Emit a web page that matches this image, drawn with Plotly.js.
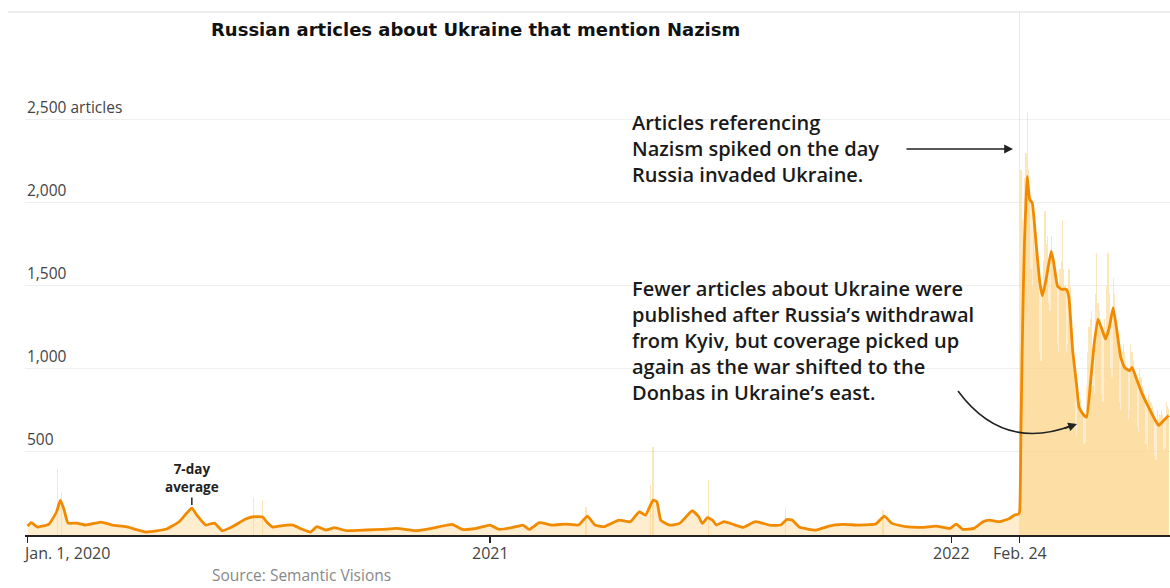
<!DOCTYPE html>
<html>
<head>
<meta charset="utf-8">
<script src="https://cdn.plot.ly/plotly-3.0.1.min.js"></script>
<style>html,body{margin:0;padding:0;background:#fff;}#chart{width:1170px;height:588px;}</style>
</head>
<body>
<div id="chart"></div>
<script>
// 7-day average (articles per day)
const avgDates = [
 '2020-01-01','2020-01-04','2020-01-09','2020-01-18','2020-01-24','2020-01-27','2020-01-30','2020-02-02','2020-02-09','2020-02-16',
 '2020-02-28','2020-03-08','2020-03-19','2020-04-04','2020-04-20','2020-04-30','2020-05-06','2020-05-10','2020-05-14','2020-05-21',
 '2020-05-28','2020-06-03','2020-06-11','2020-06-22','2020-06-28','2020-07-05','2020-07-09','2020-07-13','2020-07-24','2020-07-29',
 '2020-08-05','2020-08-12','2020-08-17','2020-08-24','2020-08-31','2020-09-09','2020-09-25','2020-10-08','2020-10-19','2020-11-03',
 '2020-11-16','2020-12-02','2020-12-10','2020-12-21',
 '2021-01-01','2021-01-08','2021-01-19','2021-01-27','2021-02-01','2021-02-09','2021-02-19','2021-03-02','2021-03-12','2021-03-19',
 '2021-03-25','2021-04-01','2021-04-13','2021-04-22','2021-04-29','2021-05-04','2021-05-10','2021-05-13','2021-05-16','2021-05-23',
 '2021-05-31','2021-06-10','2021-06-15','2021-06-18','2021-06-22','2021-06-26','2021-06-29','2021-07-05','2021-07-14','2021-07-20',
 '2021-07-30','2021-08-10','2021-08-19','2021-08-24','2021-08-28','2021-09-03','2021-09-16','2021-09-26','2021-10-07','2021-10-20',
 '2021-11-02','2021-11-09','2021-11-15','2021-11-26','2021-12-09','2021-12-20','2021-12-31',
 '2022-01-05','2022-01-10','2022-01-19','2022-01-26','2022-01-31','2022-02-08','2022-02-16','2022-02-20','2022-02-23','2022-02-24',
 '2022-02-25','2022-02-26','2022-02-27','2022-02-28','2022-03-01','2022-03-02','2022-03-04','2022-03-06','2022-03-09','2022-03-12',
 '2022-03-14','2022-03-17','2022-03-21','2022-03-23','2022-03-26','2022-03-29','2022-04-02','2022-04-04','2022-04-07','2022-04-10',
 '2022-04-12','2022-04-15','2022-04-18','2022-04-21','2022-04-24','2022-04-27','2022-05-01','2022-05-03','2022-05-06','2022-05-09',
 '2022-05-12','2022-05-15','2022-05-18','2022-05-22','2022-05-24','2022-05-28','2022-06-01','2022-06-06','2022-06-10','2022-06-14',
 '2022-06-18','2022-06-22'
];
const avgValues = [
 54,74,48,66,140,210,150,72,72,60,
 78,60,50,18,36,80,132,162,120,60,
 72,26,50,98,110,108,72,48,60,60,
 36,18,50,30,44,26,30,34,40,26,
 40,64,34,40,
 60,34,46,60,34,74,60,66,60,114,
 60,50,90,80,140,120,210,200,90,60,
 70,146,110,70,104,90,60,80,60,46,
 80,60,60,94,90,46,30,54,64,60,
 66,114,70,50,46,54,40,
 66,34,40,80,90,80,100,120,125,140,
 600,1100,1500,1800,2000,2160,2020,2000,1760,1520,
 1440,1540,1710,1640,1500,1480,1480,1430,1110,910,
 770,730,710,910,1150,1300,1220,1180,1250,1370,
 1230,1070,1010,990,1010,930,850,770,710,660,
 690,720
];

// Daily counts from the day of the invasion onward
const dailyStart = '2022-02-24';
const dailyValues = [
 3200,2200,1900,1800,2150,2300,2550,2200,2050,1600,1500,1850,1700,1750,1600,1500,1100,1050,1500,1650,
 1950,1750,1800,1400,1350,1800,1700,1650,1600,1550,1150,1100,1600,1650,1900,1600,1500,1100,1150,1600,
 1500,1300,1150,1000,650,600,850,800,820,780,750,550,560,900,1100,1250,1300,1350,900,850,
 1450,1700,1400,1350,1300,850,800,1300,1250,1500,1700,1450,1000,950,1550,1450,1300,1200,1150,800,
 750,1100,1150,1100,1050,1000,700,750,1150,1100,1050,1000,950,650,620,1000,950,900,880,850,
 550,520,850,820,800,780,750,480,450,750,700,720,750,720,500,520,800,780,760
];
// Notable single-day spikes before the invasion
const spikeDates = ['2020-01-25','2020-01-28','2020-06-28','2020-07-05','2021-03-18','2021-05-08','2021-05-10','2021-06-23','2021-08-23','2021-11-08'];
const spikeValues = [400,260,230,210,170,300,530,330,170,150];

// Axis labels
const yTickVals = [500,1000,1500,2000,2500];
const yTickText = ['500','1,000','1,500','2,000','2,500 articles'];
const xTickVals = ['2020-01-01','2021-01-01','2022-01-01','2022-02-24'];
const xTickText = ['Jan. 1, 2020','2021','2022','Feb. 24'];

// build daily date list
const dailyDates = [];
(function(){
  const d0 = new Date(dailyStart + 'T00:00:00Z');
  for (let i = 0; i < dailyValues.length; i++) {
    const d = new Date(d0.getTime() + i*86400000);
    dailyDates.push(d.toISOString().slice(0,10));
  }
})();
const barDates = spikeDates.concat(dailyDates);
const barValues = spikeValues.concat(dailyValues);

const FONT = '"Open Sans", "Liberation Sans", Arial, sans-serif';
const TFONT = '"DejaVu Sans", "Liberation Sans", Arial, sans-serif';
const ORANGE = '#f28a00';

const traces = [
  {type:'scatter', mode:'lines', x:avgDates, y:avgValues, fill:'tozeroy',
   fillcolor:'rgba(252,212,135,0.40)', line:{width:0, color:'rgba(0,0,0,0)', shape:'spline', smoothing:0.4}, hoverinfo:'skip'},
  {type:'bar', x:barDates, y:barValues, marker:{color:'rgba(252,212,135,0.58)', line:{width:0}}, width:86400000, hoverinfo:'skip'},
  {type:'scatter', mode:'lines', x:avgDates, y:avgValues, line:{color:ORANGE, width:2.8, shape:'spline', smoothing:0.4}, hoverinfo:'skip'}
];

const annotations = [];
yTickVals.forEach((v,i)=>{
  annotations.push({xref:'paper', yref:'y', x:0, y:v, xanchor:'left', yanchor:'bottom', yshift:0,
    text:yTickText[i], showarrow:false, font:{family:FONT, size:15.5, color:'#444'}});
});
xTickVals.forEach((v,i)=>{
  annotations.push({xref:'x', yref:'paper', x:v, y:0, xanchor: i===0 ? 'left':'center', yanchor:'top',
    xshift: i===0 ? -7 : 0, yshift:-5,
    text:xTickText[i], showarrow:false, font:{family:FONT, size:16, color:'#444'}});
});
annotations.push({xref:'paper', yref:'paper', x:(630-25)/1145, y:(535-107)/523, xanchor:'left', yanchor:'top', align:'left',
  text:'Articles referencing<br>Nazism spiked on the day<br>Russia invaded Ukraine.', showarrow:false,
  font:{family:FONT, size:20, color:'#1a1a1a', weight:600}});
annotations.push({xref:'paper', yref:'paper', x:(630-25)/1145, y:(535-273)/523, xanchor:'left', yanchor:'top', align:'left',
  text:'Fewer articles about Ukraine were<br>published after Russia\u2019s withdrawal<br>from Kyiv, but coverage picked up<br>again as the war shifted to the<br>Donbas in Ukraine\u2019s east.', showarrow:false,
  font:{family:FONT, size:20, color:'#1a1a1a', weight:600}});
annotations.push({xref:'paper', yref:'paper', x:(1013-25)/1145, y:(535-149)/523, ax:-108, ay:0, text:'', showarrow:true,
  arrowhead:2, arrowsize:1.1, arrowwidth:1.6, arrowcolor:'#222', standoff:0});
annotations.push({xref:'paper', yref:'paper', x:(1077-25)/1145, y:(535-424)/523, ax:-14, ay:5, text:'', showarrow:true,
  arrowhead:2, arrowsize:1.1, arrowwidth:1.6, arrowcolor:'#222', standoff:0});
annotations.push({xref:'x', yref:'y', x:'2020-05-10', y:162, ax:0, ay:-30, text:'<b>7-day<br>average</b>', showarrow:true,
  arrowhead:0, arrowwidth:1.6, arrowcolor:'#333', standoff:3, font:{family:FONT, size:13.5, color:'#222'}});
annotations.push({xref:'paper', yref:'paper', x:(210-25)/1145, y:(535-588)/523, xanchor:'left', yanchor:'bottom',
  text:'Source: Semantic Visions', showarrow:false, font:{family:FONT, size:15.5, color:'#888'}});

const shapes = [
  {type:'line', xref:'paper', yref:'paper', x0:-0.015, x1:1, y0:1, y1:1, line:{color:'#dddddd', width:1.2}},
  {type:'path', xref:'paper', yref:'paper',
   path:'M '+((958-25)/1145)+','+((535-391)/523)+' Q '+((1003-25)/1145)+','+((535-452)/523)+' '+((1072-25)/1145)+','+((535-425.5)/523),
   line:{color:'#222', width:1.6}}
];

const layout = {
  width:1170, height:588,
  margin:{l:25, r:0, t:12, b:53},
  paper_bgcolor:'#fff', plot_bgcolor:'#fff',
  showlegend:false, bargap:0,
  title:{text:'<b>Russian articles about Ukraine that mention Nazism</b>', xref:'container', yref:'container',
    x:211/1170, xanchor:'left', y:1-30/588, yanchor:'middle', font:{family:TFONT, size:18, color:'#111'}},
  xaxis:{type:'date', range:['2019-12-30','2022-06-23'], tickvals:xTickVals, showticklabels:false,
    ticks:'outside', ticklen:6, tickwidth:1.5, tickcolor:'#222', showgrid:false, zeroline:false,
    showline:true, linecolor:'#222', linewidth:1.6},
  yaxis:{range:[0,3150], tickvals:yTickVals, showticklabels:false, showgrid:true, gridcolor:'#efefef', gridwidth:1,
    zeroline:false, showline:false, ticks:''},
  annotations:annotations, shapes:shapes,
  font:{family:FONT}
};

Plotly.newPlot('chart', traces, layout, {staticPlot:true, displayModeBar:false});
</script>
</body>
</html>
